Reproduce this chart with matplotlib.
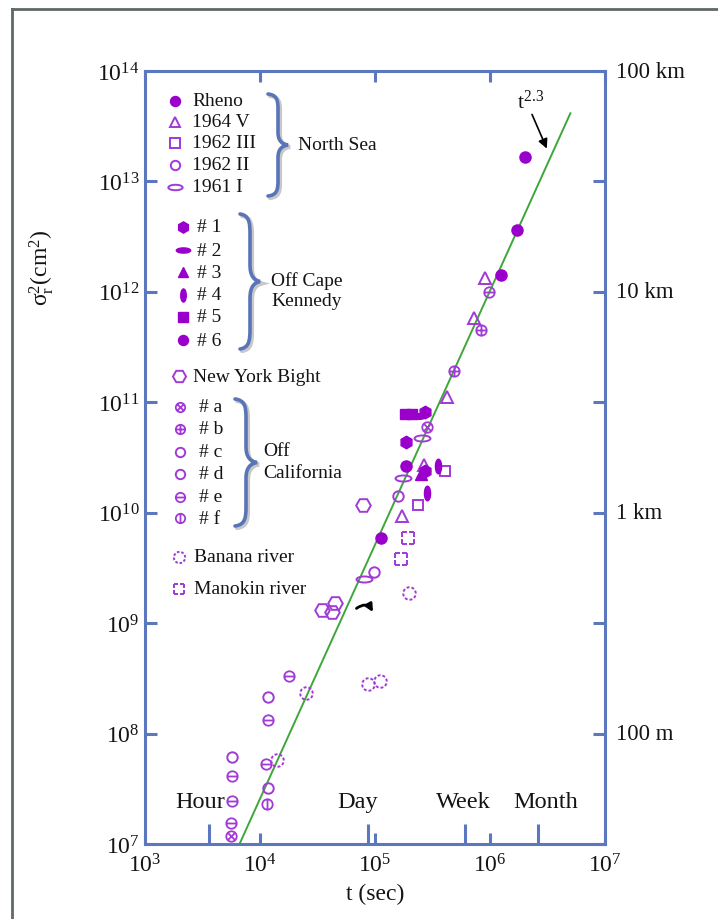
import numpy as np
import matplotlib
matplotlib.use("Agg")
import matplotlib.pyplot as plt
from matplotlib.path import Path
from matplotlib.transforms import Affine2D
from matplotlib.lines import Line2D
from matplotlib.patches import PathPatch
from matplotlib.ticker import FixedLocator, NullFormatter

plt.rcParams['font.family'] = ['Liberation Serif', 'DejaVu Serif']
plt.rcParams['mathtext.fontset'] = 'custom'
plt.rcParams['mathtext.rm'] = 'Liberation Serif'
plt.rcParams['mathtext.it'] = 'Liberation Serif:italic'
plt.rcParams['mathtext.bf'] = 'Liberation Serif:bold'

# ---------------- data ----------------
rheno_t = [2.01e6, 1.72e6, 1.25e6]
rheno_s = [1.66e13, 3.63e12, 1.42e12]
v1964_t = [9.06e5, 7.26e5, 4.23e5, 2.67e5, 1.72e5]
v1964_s = [1.33e12, 5.8e11, 1.12e11, 2.7e10, 9.3e9]
iii1962_t = [4.06e5, 2.37e5]
iii1962_s = [2.39e10, 1.17e10]
ii1962_t = [1.58e5, 9.8e4]
ii1962_s = [1.42e10, 2.9e9]
i1961_t = [2.56e5, 1.75e5, 8.0e4]
i1961_s = [4.75e10, 2.06e10, 2.51e9]
ck1_t = [2.72e5, 1.86e5, 2.72e5]
ck1_s = [8.2e10, 4.37e10, 2.39e10]
ck2_t = [2.37e5]
ck2_s = [7.5e10]
ck3_t = [2.51e5]
ck3_s = [2.24e10]
ck4_t = [3.53e5, 2.83e5]
ck4_s = [2.65e10, 1.51e10]
ck5_t = [1.82e5, 2.1e5]
ck5_s = [7.8e10, 7.8e10]
ck6_t = [1.86e5, 1.13e5]
ck6_s = [2.65e10, 5.9e9]
nyb_t = [7.87e4, 3.46e4, 4.49e4, 4.23e4]
nyb_s = [1.17e10, 1.32e9, 1.52e9, 1.26e9]
ca_a_t = [2.83e5, 5.6e3]
ca_a_s = [5.97e10, 1.18e7]
ca_b_t = [8.35e5, 4.86e5]
ca_b_s = [4.52e11, 1.92e11]
ca_c_t = [1.17e4, 5.71e3]
ca_c_s = [2.14e8, 6.1e7]
ca_d_t = [1.17e4]
ca_d_s = [3.2e7]
ca_e_t = [9.8e5, 1.79e4, 1.17e4, 1.13e4, 5.71e3, 5.71e3, 5.6e3]
ca_e_s = [1.0e12, 3.32e8, 1.33e8, 5.3e7, 4.13e7, 2.45e7, 1.55e7]
ca_f_t = [1.15e4]
ca_f_s = [2.3e7]
banana_t = [1.98e5, 8.7e4, 1.1e5, 2.51e4, 1.41e4]
banana_s = [1.88e9, 2.81e8, 2.99e8, 2.33e8, 5.77e7]
manokin_t = [1.94e5, 1.68e5]
manokin_s = [5.9e9, 3.81e9]

fit_t = [6.0e3, 5.0e6]
fit_exp = 2.3
fit_coef = 0.0162

x_decades = [1e3, 1e4, 1e5, 1e6, 1e7]
x_ticklabels = ['$\\mathregular{10^{3}}$', '$\\mathregular{10^{4}}$', '$\\mathregular{10^{5}}$',
                '$\\mathregular{10^{6}}$', '$\\mathregular{10^{7}}$']
y_decades = [1e7, 1e8, 1e9, 1e10, 1e11, 1e12, 1e13, 1e14]
y_ticklabels = ['$\\mathregular{10^{%d}}$' % k for k in range(7, 15)]
time_marks = [3600, 86400, 604800, 2.6e6]
time_labels = ['Hour', 'Day', 'Week', 'Month']
length_vals = [1e8, 1e10, 1e12, 1e14]
length_labels = ['100 m', '1 km', '10 km', '100 km']

# ---------------- styles ----------------
FILL = '#9a00cc'
HOLL = '#a13ad6'
SPINE = '#5b77bd'
TXT = '#141414'


def ellipse(ry):
    return Path.unit_circle().transformed(Affine2D().scale(1.0, ry))


def circ_with(segs):
    parts = [Path.unit_circle()]
    for (a, b) in segs:
        parts.append(Path([a, b], [Path.MOVETO, Path.LINETO]))
    return Path.make_compound_path(*parts)


def dashed_circle(n=8, frac=0.6):
    parts = []
    step = 360.0 / n
    for i in range(n):
        t1 = i * step
        parts.append(Path.arc(t1, t1 + step * frac))
    return Path.make_compound_path(*parts)


def dashed_square():
    segs = []
    c = [(-1, -1), (1, -1), (1, 1), (-1, 1)]
    for i in range(4):
        a = np.array(c[i], float)
        b = np.array(c[(i + 1) % 4], float)
        segs.append(Path([a, a + (b - a) * 0.38], [Path.MOVETO, Path.LINETO]))
        segs.append(Path([a + (b - a) * 0.62, b], [Path.MOVETO, Path.LINETO]))
    return Path.make_compound_path(*segs)


d = 0.62
M_ELL_H = ellipse(0.38)
M_ELL_FH = ellipse(0.36)
M_ELL_V = Path.unit_circle().transformed(Affine2D().scale(0.42, 1.0))
M_OTIMES = circ_with([((-d, -d), (d, d)), ((-d, d), (d, -d))])
M_OPLUS = circ_with([((-1, 0), (1, 0)), ((0, -1), (0, 1))])
M_OMINUS = circ_with([((-1, 0), (1, 0))])
M_OBAR = circ_with([((0, -1), (0, 1))])
M_DCIRC = dashed_circle()
M_DSQ = dashed_square()

styles = {
    'rheno': dict(marker='o', ms=8, mfc=FILL, mec=FILL, mew=1.0),
    'v1964': dict(marker='^', ms=8.5, mfc='none', mec=HOLL, mew=1.4),
    'iii1962': dict(marker='s', ms=7.5, mfc='none', mec=HOLL, mew=1.4),
    'ii1962': dict(marker='o', ms=7.5, mfc='none', mec=HOLL, mew=1.4),
    'i1961': dict(marker=M_ELL_H, ms=11.5, mfc='none', mec=HOLL, mew=1.4),
    'ck1': dict(marker='h', ms=9, mfc=FILL, mec=FILL, mew=1.0),
    'ck2': dict(marker=M_ELL_FH, ms=11.5, mfc=FILL, mec=FILL, mew=1.0),
    'ck3': dict(marker='^', ms=8, mfc=FILL, mec=FILL, mew=1.0),
    'ck4': dict(marker=M_ELL_V, ms=10.5, mfc=FILL, mec=FILL, mew=1.0),
    'ck5': dict(marker='s', ms=7.5, mfc=FILL, mec=FILL, mew=1.0),
    'ck6': dict(marker='o', ms=8, mfc=FILL, mec=FILL, mew=1.0),
    'nyb': dict(marker='H', ms=10.5, mfc='none', mec=HOLL, mew=1.4),
    'ca_a': dict(marker=M_OTIMES, ms=7.5, mfc='none', mec=HOLL, mew=1.3),
    'ca_b': dict(marker=M_OPLUS, ms=7.5, mfc='none', mec=HOLL, mew=1.3),
    'ca_c': dict(marker='o', ms=7.5, mfc='none', mec=HOLL, mew=1.4),
    'ca_d': dict(marker='o', ms=7.5, mfc='none', mec=HOLL, mew=1.4),
    'ca_e': dict(marker=M_OMINUS, ms=7.5, mfc='none', mec=HOLL, mew=1.3),
    'ca_f': dict(marker=M_OBAR, ms=7.5, mfc='none', mec=HOLL, mew=1.3),
    'banana': dict(marker=M_DCIRC, ms=9, mfc='none', mec=HOLL, mew=1.4),
    'manokin': dict(marker=M_DSQ, ms=8, mfc='none', mec=HOLL, mew=1.4),
}

series = [
    ('rheno', rheno_t, rheno_s), ('v1964', v1964_t, v1964_s), ('iii1962', iii1962_t, iii1962_s),
    ('ii1962', ii1962_t, ii1962_s), ('i1961', i1961_t, i1961_s),
    ('ck5', ck5_t, ck5_s), ('ck2', ck2_t, ck2_s), ('ck1', ck1_t, ck1_s), ('ck3', ck3_t, ck3_s),
    ('ck4', ck4_t, ck4_s), ('ck6', ck6_t, ck6_s), ('nyb', nyb_t, nyb_s),
    ('ca_a', ca_a_t, ca_a_s), ('ca_b', ca_b_t, ca_b_s), ('ca_c', ca_c_t, ca_c_s),
    ('ca_d', ca_d_t, ca_d_s), ('ca_e', ca_e_t, ca_e_s), ('ca_f', ca_f_t, ca_f_s),
    ('banana', banana_t, banana_s), ('manokin', manokin_t, manokin_s),
]

# ---------------- figure ----------------
W, H = 718, 920
fig = plt.figure(figsize=(W / 100, H / 100), dpi=100)
fig.patch.set_facecolor('white')


def P(x, y):
    return (x / W, 1 - y / H)


ax = fig.add_axes([145 / W, 1 - 845 / H, 460 / W, 773 / H])
ax.set_xscale('log')
ax.set_yscale('log')
ax.set_xlim(1e3, 1e7)
ax.set_ylim(1e7, 1e14)

# fit line
ft = np.logspace(np.log10(fit_t[0]), np.log10(fit_t[1]), 50)
ax.plot(ft, fit_coef * ft ** fit_exp, color='#3ea63a', lw=1.4, zorder=2)

for key, t, s in series:
    ax.plot(t, s, ls='none', zorder=3, **styles[key])

# spines & ticks
for sp in ax.spines.values():
    sp.set_color(SPINE)
    sp.set_linewidth(2.2)

ax.xaxis.set_major_locator(FixedLocator(x_decades))
ax.set_xticklabels(x_ticklabels)
ax.xaxis.set_minor_locator(FixedLocator(time_marks))
ax.xaxis.set_minor_formatter(NullFormatter())
ax.yaxis.set_major_locator(FixedLocator(y_decades))
ax.set_yticklabels(y_ticklabels)
ax.yaxis.set_minor_locator(FixedLocator([]))

ax.tick_params(axis='x', which='major', direction='in', length=8, width=2.2, color=SPINE,
               top=True, bottom=True, labelsize=17, pad=7, labelcolor=TXT)
ax.tick_params(axis='x', which='minor', direction='in', length=14.5, width=2.2, color=SPINE,
               top=False, bottom=True)
ax.tick_params(axis='y', which='major', direction='in', length=8.5, width=2.2, color=SPINE,
               left=True, right=True, labelsize=17, pad=4, labelcolor=TXT)

# right length labels
for v, lab in zip(length_vals, length_labels):
    ax.text(1.025, v, lab, transform=ax.get_yaxis_transform(), ha='left', va='center',
            fontsize=16.5, color=TXT, clip_on=False)

# time labels inside
time_lab_px = [(200, 803), (358, 803), (463, 803), (546, 803)]
for (x, y), lab in zip(time_lab_px, time_labels):
    fig.text(*P(x, y), lab, ha='center', va='center', fontsize=17.5, color=TXT)

ax.set_xlabel('t (sec)', fontsize=17, color=TXT, labelpad=4)
fig.text(*P(42, 268), 'σ$_\\mathregular{r}^{\\mathregular{2}}$(cm$^{\\mathregular{2}}$)', rotation=90,
         ha='center', va='center', fontsize=17, color=TXT)

# annotations
ax.annotate('', xy=(3.19e6, 1.88e13), xytext=(2.27e6, 4.26e13),
            arrowprops=dict(arrowstyle='-|>', color='black', lw=1.2, mutation_scale=14))
ax.text(2.25e6, 5.35e13, 't$^{\\mathregular{2.3}}$', fontsize=16, ha='center', va='center', color=TXT)
ax.annotate('', xy=(9.6e4, 1.26e9), xytext=(6.9e4, 1.36e9),
            arrowprops=dict(arrowstyle='-|>', color='black', lw=2.0, mutation_scale=11,
                            shrinkA=0, shrinkB=0,
                            connectionstyle='arc3,rad=-0.55'))

# ---------------- legend ----------------
def lmark(key, x, y, scale=0.9):
    st = dict(styles[key])
    st['ms'] = st['ms'] * scale
    fig.add_artist(Line2D([x / W], [1 - y / H], ls='none', transform=fig.transFigure, **st))


LFS = 14


def ltext(x, y, s):
    fig.text(*P(x, y), s, ha='left', va='center', fontsize=LFS, color=TXT)


north = [('rheno', 'Rheno', 102), ('v1964', '1964 V', 123), ('iii1962', '1962 III', 144),
         ('ii1962', '1962 II', 166), ('i1961', '1961 I', 188)]
for k, lab, y in north:
    lmark(k, 175, y)
    ltext(192, y, lab)

cape = [('ck1', '# 1', 228), ('ck2', '# 2', 251), ('ck3', '# 3', 273), ('ck4', '# 4', 296),
        ('ck5', '# 5', 318), ('ck6', '# 6', 341)]
for k, lab, y in cape:
    lmark(k, 183, y)
    ltext(197, y, lab)

lmark('nyb', 179, 377)
ltext(193, 377, 'New York Bight')

cal = [('ca_a', '# a', 408), ('ca_b', '# b', 430), ('ca_c', '# c', 453), ('ca_d', '# d', 475),
       ('ca_e', '# e', 498), ('ca_f', '# f', 519)]
for k, lab, y in cal:
    lmark(k, 180, y)
    ltext(199, y, lab)

lmark('banana', 179, 558)
ltext(194, 558, 'Banana river')
lmark('manokin', 179, 590)
ltext(194, 590, 'Manokin river')

ltext(298, 145, 'North Sea')
ltext(271, 281, 'Off Cape')
ltext(271, 302, 'Kennedy')
ltext(263, 452, 'Off')
ltext(263, 474, 'California')


def brace(x0, yt, yb, w):
    q = (yb - yt) / 2.0
    ym = yt + q
    pts = [(x0, yt),
           (x0 + 0.45 * w, yt + 0.02 * q), (x0 + 0.5 * w, yt + 0.12 * q), (x0 + 0.5 * w, yt + 0.3 * q),
           (x0 + 0.5 * w, ym - 0.25 * q),
           (x0 + 0.5 * w, ym - 0.08 * q), (x0 + 0.7 * w, ym - 0.02 * q), (x0 + w, ym),
           (x0 + 0.7 * w, ym + 0.02 * q), (x0 + 0.5 * w, ym + 0.08 * q), (x0 + 0.5 * w, ym + 0.25 * q),
           (x0 + 0.5 * w, yb - 0.3 * q),
           (x0 + 0.5 * w, yb - 0.12 * q), (x0 + 0.45 * w, yb - 0.02 * q), (x0, yb)]
    codes = [Path.MOVETO, Path.CURVE4, Path.CURVE4, Path.CURVE4, Path.LINETO,
             Path.CURVE4, Path.CURVE4, Path.CURVE4, Path.CURVE4, Path.CURVE4, Path.CURVE4,
             Path.LINETO, Path.CURVE4, Path.CURVE4, Path.CURVE4]
    for dx, col, lw in [(2.0, '#c8c8c8', 3.0), (0.0, '#5a74b8', 2.6)]:
        fp = [((x + dx) / W, 1 - (y + dx) / H) for x, y in pts]
        fig.add_artist(PathPatch(Path(fp, codes), fc='none', ec=col, lw=lw,
                                 transform=fig.transFigure, capstyle='round'))


brace(268, 95, 197, 20)
brace(240, 215, 350, 20)
brace(235, 400, 527, 22)

# outer frame
fig.add_artist(Line2D([12 / W, 12 / W], [0, 1 - 10 / H], color='#5f6868', lw=2,
                      transform=fig.transFigure))
fig.add_artist(Line2D([12 / W, 1], [1 - 10 / H, 1 - 10 / H], color='#5f6868', lw=2,
                      transform=fig.transFigure))

fig.savefig('out.png', dpi=100)
